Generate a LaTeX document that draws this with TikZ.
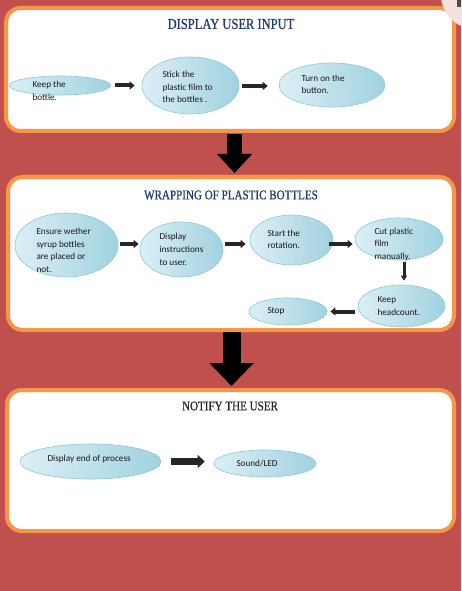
\documentclass[tikz,border=0pt]{standalone}
\usepackage{fontspec}
\setmainfont{Carlito}
\newfontfamily\titlefont[FakeStretch=0.83,FakeBold=0.6]{Liberation Serif}
\usetikzlibrary{shapes.geometric,arrows.meta,calc}

\definecolor{bgred}{RGB}{192,80,77}
\definecolor{panelorange}{RGB}{247,150,70}
\definecolor{titleblue}{RGB}{32,58,114}
\definecolor{ellLight}{RGB}{220,239,245}
\definecolor{ellDark}{RGB}{160,210,224}
\definecolor{ellEdge}{RGB}{146,202,218}
\definecolor{arrowgray}{RGB}{38,38,38}
\definecolor{cornerpink}{RGB}{245,225,224}

\tikzset{every picture/.style={line width=0.75pt}}
\tikzset{
  panel/.style={draw=panelorange, line width=3pt, fill=white, rounded corners=11pt, inner sep=0pt},
  bubble/.style={ellipse, draw=ellEdge, line width=0.5pt, left color=ellLight, right color=ellDark, inner sep=0pt},
  lbl/.style={anchor=west, align=left, inner sep=0pt, font=\fontsize{6.9}{9.5}\selectfont, text=black!90},
  heading/.style={inner sep=0pt, font=\titlefont\fontsize{11.3}{13}\selectfont, text=titleblue},
  flow/.style={draw=arrowgray, line width=3pt, -{Triangle[length=3.75pt,width=6pt]}},
  bigarrow/.style={draw=black, -{Triangle[length=14.25pt,width=25.5pt]}}
}

\begin{document}
\begin{tikzpicture}[x=0.75pt,y=0.75pt,yscale=-1,xscale=1]
%set diagram to the size of the screenshot
\fill[bgred] (0,0) rectangle (461,591);
\useasboundingbox (0,0) rectangle (461,591);

%Shape: Rounded Rect
\node[panel, minimum width=336pt, minimum height=92.25pt] (input) at (230,69.5) {};
%Shape: Rounded Rect
\node[panel, minimum width=334.5pt, minimum height=114.75pt] (wrap) at (231,253.5) {};
%Shape: Rounded Rect
\node[panel, minimum width=335.25pt, minimum height=105.75pt] (notify) at (230.5,460.5) {};

%Shape: Circle (corner of the screenshot)
\fill[cornerpink] (475,-5) circle (34);
\fill[gray!60!black] (457,0) rectangle (461,7);

%Big arrows between the panels
\draw[bigarrow, line width=11.25pt, shorten >=1.5pt] ([xshift=3.4pt,yshift=0.75pt]input.south) -- ([xshift=3.4pt]input.south |- wrap.north);
\draw[bigarrow, line width=13.5pt, -{Triangle[length=17.25pt,width=32.25pt]}, shorten >=1.5pt] ([xshift=0.4pt]wrap.south) -- ([xshift=0.4pt]wrap.south |- notify.north);

% Text Node
\node[heading] (input title) at (231,24) {DISPLAY USER INPUT};
% Text Node
\node[heading, font=\titlefont\fontsize{10}{12}\selectfont] (wrap title) at (231,195) {WRAPPING OF PLASTIC BOTTLES};
% Text Node
\node[heading, font=\titlefont\fontsize{10}{12}\selectfont, text=black!85] (notify title) at (230,406) {NOTIFY THE USER};

%Shape: Ellipse
\node[bubble, minimum width=75.75pt, minimum height=14.25pt] (keep) at (60,85.5) {};
\node[bubble, minimum width=72.75pt, minimum height=42.75pt] (stick) at (190.5,85.5) {};
\node[bubble, minimum width=79.5pt, minimum height=33pt] (turnon) at (332,85) {};
%Shape: Ellipse
\node[bubble, minimum width=77.25pt, minimum height=48pt] (ensure) at (66.5,245) {};
\node[bubble, minimum width=62.25pt, minimum height=41.25pt] (instr) at (181.5,249.5) {};
\node[bubble, minimum width=62.25pt, minimum height=37.5pt] (rotate) at (291.5,240) {};
\node[bubble, minimum width=66pt, minimum height=31.5pt] (cut) at (399,239) {};
\node[bubble, minimum width=65.25pt, minimum height=31.5pt] (count) at (401.5,306) {};
\node[bubble, minimum width=58.5pt, minimum height=20.25pt] (stop) at (288,311.5) {};
%Shape: Ellipse
\node[bubble, minimum width=105.75pt, minimum height=26.25pt] (endproc) at (90.5,461.5) {};
\node[bubble, minimum width=76.5pt, minimum height=20.25pt] (sound) at (265,463.5) {};

% Text Node
\node[lbl] (keep txt) at (32,91) {Keep the\\bottle.};
\node[lbl] (stick txt) at (162,87) {Stick the\\plastic film to\\the bottles .};
\node[lbl] (turnon txt) at (301,84.5) {Turn on the\\button.};
% Text Node
\node[lbl] (ensure txt) at (36,250.5) {Ensure wether\\syrup bottles\\are placed or\\not.};
\node[lbl] (instr txt) at (159,249.5) {Display\\instructions\\to user.};
\node[lbl] (rotate txt) at (267,239.5) {Start the\\rotation.};
\node[lbl] (cut txt) at (374,244.5) {Cut plastic\\film\\manually.};
\node[lbl] (count txt) at (377,306) {Keep\\headcount.};
\node[lbl] (stop txt) at (267,311) {Stop};
% Text Node
\node[lbl] (endproc txt) at (47,459) {Display end of process};
\node[lbl] (sound txt) at (236,463) {Sound/LED};

%Straight Lines
\draw[flow, shorten <=3.4pt, shorten >=5.25pt] (keep.east) -- (stick.west);
\draw[flow, shorten <=2.25pt, shorten >=8.25pt] ($(stick.east)+(0,0.5)$) -- ($(stick.east -| turnon.west)+(0,0.5)$);
\draw[flow, shorten <=1.1pt, shorten >=0.75pt] ($(ensure.east)+(0,-1)$) -- ($(ensure.east -| instr.west)+(0,-1)$);
\draw[flow, shorten <=1.5pt, shorten >=3pt] ($(instr.east)+(0,-5.5)$) -- ($(instr.east -| rotate.west)+(0,-5.5)$);
\draw[flow, shorten <=-3pt, shorten >=1.5pt] ($(rotate.east)+(0,4)$) -- ($(rotate.east -| cut.west)+(0,4)$);
\draw[flow, line width=2.25pt, -{Triangle[length=3.75pt,width=4.5pt]}, shorten <=1.5pt, shorten >=3pt] ($(cut.south)+(5,0)$) -- ($(cut.south |- count.north)+(5,0)$);
\draw[flow, shorten <=2.25pt, shorten >=2.25pt] (count.west |- stop.east) -- (stop.east);
\draw[flow, line width=5.25pt, -{Triangle[length=5.25pt,width=9.75pt]}, shorten <=7.5pt, shorten >=6.75pt] (endproc.east) -- (endproc.east -| sound.west);

\end{tikzpicture}
\end{document}
